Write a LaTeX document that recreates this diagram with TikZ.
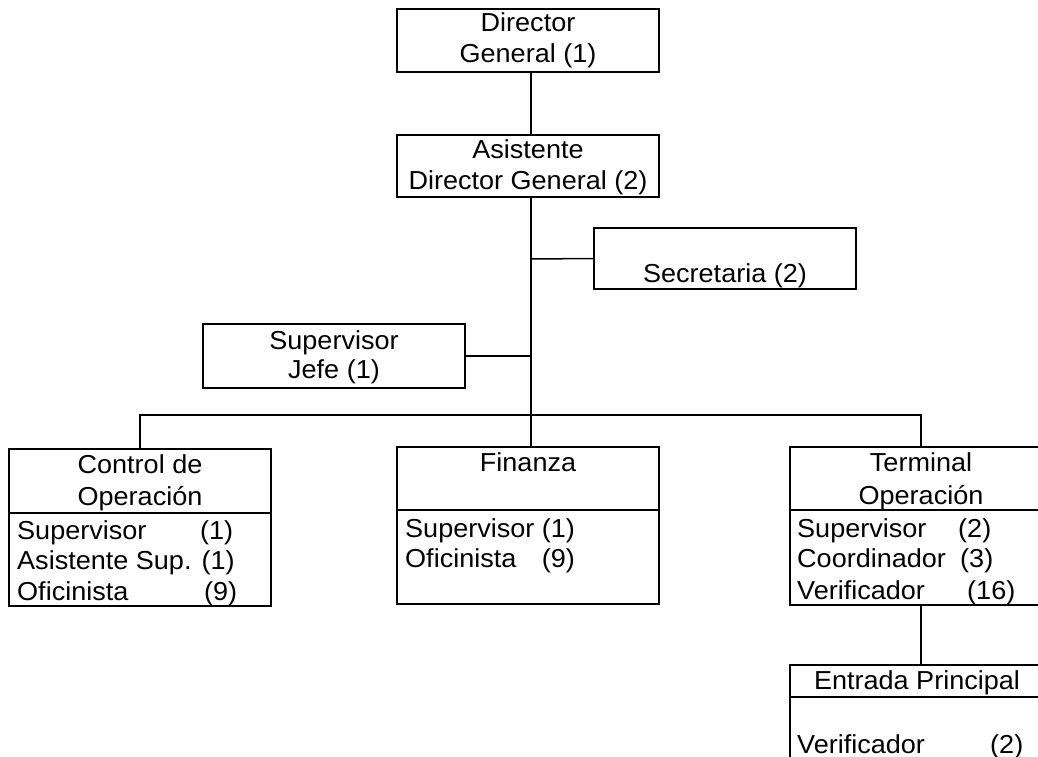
\documentclass[tikz,border=0pt]{standalone}
\usepackage{fontspec}
\setmainfont{Liberation Sans}[FakeStretch=1.04]
\begin{document}
\begin{tikzpicture}[x=1pt,y=-1pt,
  box/.style={draw, line width=1.5pt, rectangle, anchor=north west,
    inner sep=0pt, outer sep=0pt, minimum width=262pt},
  conn/.style={line width=1.5pt},
  rule/.style={line width=1.3pt},
  lbl/.style={anchor=base, inner sep=0pt, font=\fontsize{26}{31}\selectfont},
  row/.style={anchor=base west, inner sep=0pt, font=\fontsize{26}{31}\selectfont}]
\useasboundingbox (0,0) rectangle (1038,757);
\clip (0,0) rectangle (1038,757);

% boxes
\node[box, minimum height=63pt]  (dg)   at (397,9)   {};
\node[box, minimum height=62pt]  (adg)  at (397,135) {};
\node[box, minimum height=61pt]  (sec)  at (594,228) {};
\node[box, minimum height=64pt]  (sj)   at (203,324) {};
\node[box, minimum height=157pt] (ctl)  at (9,449)   {};
\node[box, minimum height=157pt] (fin)  at (397,447) {};
\node[box, minimum height=158pt] (term) at (790,447) {};
\node[box, minimum height=110pt] (ent)  at (790,665) {};

% junctions on the main trunk
\coordinate (jsec) at (531,259);
\coordinate (jsup) at (531,356);
\coordinate (jbus) at (531,415);

% connectors
\draw[conn] (dg.south -| jbus) -- (adg.north -| jbus);
\draw[conn] (adg.south -| jbus) -- (jbus);
\draw[conn] (jsec) -- (sec.west);
\draw[conn] (jsup) -- (sj.east);
\draw[conn] (ctl.north) |- (term.north |- jbus) -- (term.north);
\draw[conn] (jbus) -- (fin.north -| jbus);
\draw[conn] (term.south) -- (ent.north);

% dividers between header and staff rows
\draw[rule] (ctl.west |- 0,513) -- (ctl.east |- 0,513);
\draw[rule] (fin.west |- 0,510) -- (fin.east |- 0,510);
\draw[rule] (term.west |- 0,510) -- (term.east |- 0,510);
\draw[rule] (ent.west |- 0,697) -- (ent.east |- 0,697);

% top levels
\node[lbl] (t1) at (528,32)  {Director};
\node[lbl] (t2) at (528,63)  {General (1)};
\node[lbl] (t3) at (528,158) {Asistente};
\node[lbl] (t4) at (528,189) {Director General (2)};
\node[lbl] (t5) at (725,282) {Secretaria (2)};
\node[lbl] (t6) at (334,349) {Supervisor};
\node[lbl] (t7) at (334,378) {Jefe (1)};

% Control de Operacion
\node[lbl] (c1) at (140,473) {Control de};
\node[lbl] (c2) at (140,505) {Operación};
\node[row] (c3) at (17,539)  {Supervisor};
\node[row] (c3n) at (200,539) {(1)};
\node[row] (c4) at (17,569)  {Asistente Sup. (1)};
\node[row] (c5) at (17,600)  {Oficinista};
\node[row] (c5n) at (204,600) {(9)};

% Finanza
\node[lbl] (f1) at (528,471) {Finanza};
\node[row] (f2) at (405,537) {Supervisor (1)};
\node[row] (f3) at (405,567) {\makebox[0pt][l]{Oficinista}\hphantom{Supervisor }(9)};

% Terminal Operacion
\node[lbl] (o1) at (921,471) {Terminal};
\node[lbl] (o2) at (921,504) {Operación};
\node[row] (o3) at (797,537) {Supervisor};
\node[row] (o3n) at (958,537) {(2)};
\node[row] (o4) at (797,567) {Coordinador};
\node[row] (o4n) at (960,567) {(3)};
\node[row] (o5) at (797,599) {Verificador};
\node[row] (o5n) at (967,599) {(16)};

% Entrada Principal
\node[lbl] (e1) at (917,689) {Entrada Principal};
\node[row] (e2) at (797,753) {Verificador};
\node[row] (e2n) at (990,753) {(2)};
\end{tikzpicture}
\end{document}
